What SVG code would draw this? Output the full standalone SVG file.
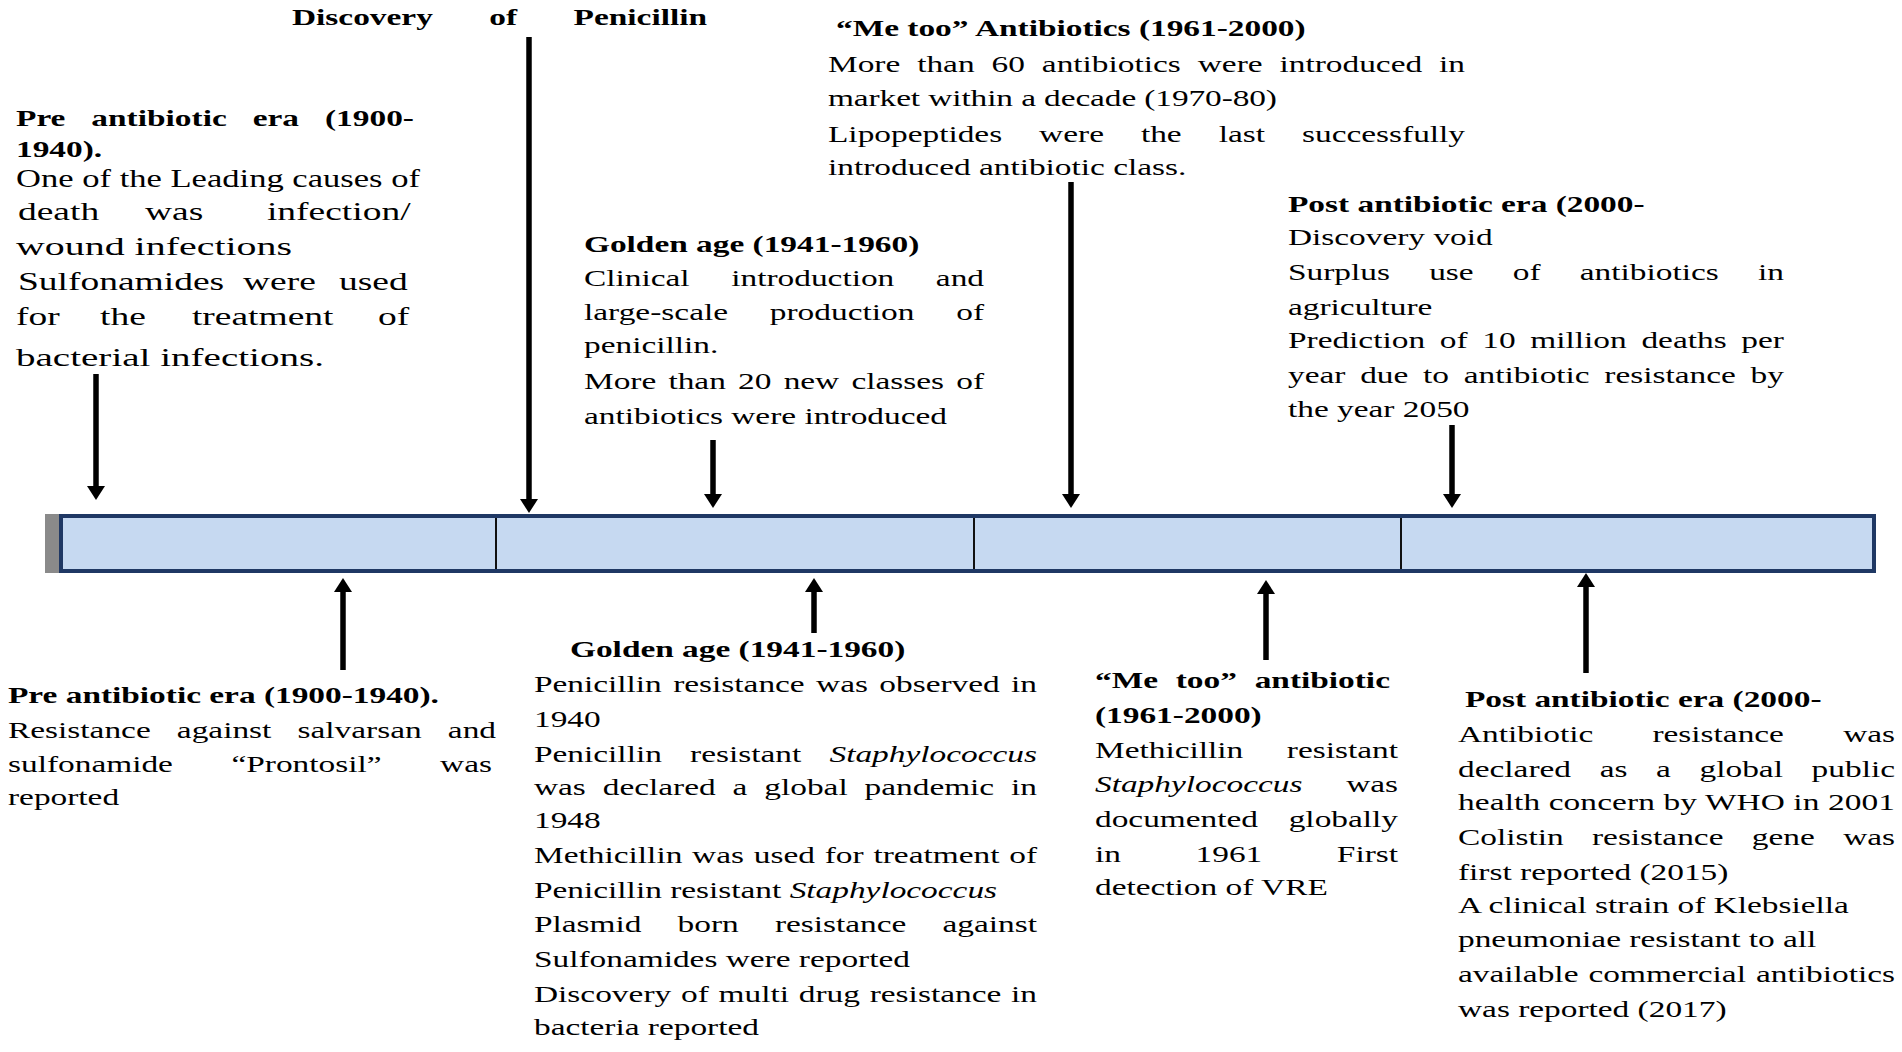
<svg xmlns="http://www.w3.org/2000/svg" width="1902" height="1052" viewBox="0 0 1902 1052">
<defs>
<style>
text { font-family: "Liberation Serif", "Times New Roman", serif; font-size: 24px; fill: #000; }
.b { font-weight: bold; }
.big { font-size: 25px; }
.i { font-style: italic; }
.arrow { stroke: #000; stroke-width: 5.5; fill: none; marker-end: url(#ah); }
.div { stroke: #111; stroke-width: 2; }
</style>
<marker id="ah" markerUnits="userSpaceOnUse" viewBox="0 0 14 18" refX="4" refY="9" markerWidth="14" markerHeight="18" orient="auto">
<path d="M0,0 L14,9 L0,18 z" fill="#000"/>
</marker>
</defs>
<rect x="0" y="0" width="1902" height="1052" fill="#fff"/>

<g id="timeline">
<rect x="45" y="514" width="16" height="59" fill="#8a8a8a"/>
<rect x="61" y="516" width="1813" height="55" fill="#C6D9F1" stroke="#1F3864" stroke-width="4"/>
<line class="div" x1="496" y1="518" x2="496" y2="569"/>
<line class="div" x1="974" y1="518" x2="974" y2="569"/>
<line class="div" x1="1401" y1="518" x2="1401" y2="569"/>
</g>

<g id="pre-antibiotic-top">
<g transform="translate(16 0) scale(1.39 1)">
<text class="b" x="0" y="126" word-spacing="12.6" textLength="286.3" lengthAdjust="spacing">Pre antibiotic era (1900-</text>
<text class="b" x="0" y="157">1940).</text>
</g>
<g transform="translate(16 0) scale(1.5 1)">
<text class="big" x="0" y="187" textLength="269.3" lengthAdjust="spacingAndGlyphs">One of the Leading causes of</text>
<text class="big" y="220"><tspan x="1.3">death</tspan> <tspan x="86">was</tspan> <tspan x="167.3">infection/</tspan></text>
<text class="big" x="0" y="255" textLength="184" lengthAdjust="spacingAndGlyphs">wound infections</text>
<text class="big" y="290"><tspan x="1.3">Sulfonamides</tspan> <tspan x="151.3">were</tspan> <tspan x="215.3">used</tspan></text>
<text class="big" y="325"><tspan x="0">for</tspan> <tspan x="56">the</tspan> <tspan x="117.3">treatment</tspan> <tspan x="241.3">of</tspan></text>
<text class="big" x="0" y="366" textLength="205.3" lengthAdjust="spacingAndGlyphs">bacterial infections.</text>
</g>
</g>

<g id="discovery-penicillin" transform="translate(292 0) scale(1.39 1)">
<text class="b" x="0" y="25" word-spacing="34.6" textLength="298.6" lengthAdjust="spacing">Discovery of Penicillin</text>
</g>

<g id="golden-age-top" transform="translate(584 0) scale(1.39 1)">
<text class="b" x="0" y="252">Golden age (1941-1960)</text>
<text x="0" y="286" word-spacing="23.9" textLength="287.8" lengthAdjust="spacing">Clinical introduction and</text>
<text x="0" y="320" word-spacing="24" textLength="287.8" lengthAdjust="spacing">large-scale production of</text>
<text x="0" y="353">penicillin.</text>
<text x="0" y="389" word-spacing="2.8" textLength="287.8" lengthAdjust="spacing">More than 20 new classes of</text>
<text x="0" y="424">antibiotics were introduced</text>
</g>

<g id="me-too-top" transform="translate(828 0) scale(1.39 1)">
<text class="b" x="5.8" y="36">“Me too” Antibiotics (1961-2000)</text>
<text x="0" y="72" word-spacing="6.2" textLength="458.3" lengthAdjust="spacing">More than 60 antibiotics were introduced in</text>
<text x="0" y="106" textLength="323" lengthAdjust="spacing">market within a decade (1970-80)</text>
<text x="0" y="142" word-spacing="20.6" textLength="458.3" lengthAdjust="spacing">Lipopeptides were the last successfully</text>
<text x="0" y="175">introduced antibiotic class.</text>
</g>

<g id="post-antibiotic-top" transform="translate(1288 0) scale(1.39 1)">
<text class="b" x="0" y="212">Post antibiotic era (2000-</text>
<text x="0" y="245">Discovery void</text>
<text x="0" y="280" word-spacing="22.2" textLength="356.8" lengthAdjust="spacing">Surplus use of antibiotics in</text>
<text x="0" y="315">agriculture</text>
<text x="0" y="348" word-spacing="4.6" textLength="356.8" lengthAdjust="spacing">Prediction of 10 million deaths per</text>
<text x="0" y="383" word-spacing="4.6" textLength="356.8" lengthAdjust="spacing">year due to antibiotic resistance by</text>
<text x="0" y="417">the year 2050</text>
</g>

<g id="pre-antibiotic-bottom" transform="translate(8 0) scale(1.39 1)">
<text class="b" x="0" y="703">Pre antibiotic era (1900-1940).</text>
<text x="0" y="738" word-spacing="12.8" textLength="351.1" lengthAdjust="spacing">Resistance against salvarsan and</text>
<text x="0" y="772" word-spacing="36.1" textLength="348.2" lengthAdjust="spacing">sulfonamide “Prontosil” was</text>
<text x="0" y="805">reported</text>
</g>

<g id="golden-age-bottom" transform="translate(534 0) scale(1.39 1)">
<text class="b" x="25.9" y="657">Golden age (1941-1960)</text>
<text x="0" y="692" word-spacing="2.2" textLength="361.9" lengthAdjust="spacing">Penicillin resistance was observed in</text>
<text x="0" y="727">1940</text>
<text x="0" y="762" word-spacing="14.3" textLength="361.9" lengthAdjust="spacing">Penicillin resistant <tspan class="i">Staphylococcus</tspan></text>
<text x="0" y="795" word-spacing="6.2" textLength="361.9" lengthAdjust="spacing">was declared a global pandemic in</text>
<text x="0" y="828">1948</text>
<text x="0" y="863" word-spacing="1" textLength="361.9" lengthAdjust="spacing">Methicillin was used for treatment of</text>
<text x="0" y="898">Penicillin resistant <tspan class="i">Staphylococcus</tspan></text>
<text x="0" y="932" word-spacing="20" textLength="361.9" lengthAdjust="spacing">Plasmid born resistance against</text>
<text x="0" y="967">Sulfonamides were reported</text>
<text x="0" y="1002" word-spacing="1" textLength="361.9" lengthAdjust="spacing">Discovery of multi drug resistance in</text>
<text x="0" y="1035">bacteria reported</text>
</g>

<g id="me-too-bottom" transform="translate(1095 0) scale(1.39 1)">
<text class="b" x="0" y="688" word-spacing="6.8" textLength="212.2" lengthAdjust="spacing">“Me too” antibiotic</text>
<text class="b" x="0" y="723">(1961-2000)</text>
<text x="0" y="758" word-spacing="25.3" textLength="218" lengthAdjust="spacing">Methicillin resistant</text>
<text x="0" y="792" word-spacing="25.5" textLength="218" lengthAdjust="spacing"><tspan class="i">Staphylococcus</tspan> was</text>
<text x="0" y="827" word-spacing="16.1" textLength="218" lengthAdjust="spacing">documented globally</text>
<text x="0" y="862" word-spacing="47.7" textLength="218" lengthAdjust="spacing">in 1961 First</text>
<text x="0" y="895">detection of VRE</text>
</g>

<g id="post-antibiotic-bottom" transform="translate(1458 0) scale(1.39 1)">
<text class="b" x="5" y="707">Post antibiotic era (2000-</text>
<text x="0" y="742" word-spacing="36.6" textLength="314.4" lengthAdjust="spacing">Antibiotic resistance was</text>
<text x="0" y="777" word-spacing="14.6" textLength="314.4" lengthAdjust="spacing">declared as a global public</text>
<text x="0" y="810" textLength="314.4" lengthAdjust="spacing">health concern by WHO in 2001</text>
<text x="0" y="845" word-spacing="14.4" textLength="314.4" lengthAdjust="spacing">Colistin resistance gene was</text>
<text x="0" y="880">first reported (2015)</text>
<text x="0" y="913">A clinical strain of Klebsiella</text>
<text x="0" y="947">pneumoniae resistant to all</text>
<text x="0" y="982" word-spacing="1.2" textLength="314.4" lengthAdjust="spacing">available commercial antibiotics</text>
<text x="0" y="1017">was reported (2017)</text>
</g>

<g id="connectors">
<line class="arrow" x1="96" y1="374" x2="96" y2="490"/>
<line class="arrow" x1="529" y1="37" x2="529" y2="503"/>
<line class="arrow" x1="713" y1="440" x2="713" y2="498"/>
<line class="arrow" x1="1071" y1="182" x2="1071" y2="498"/>
<line class="arrow" x1="1452" y1="425" x2="1452" y2="498"/>
<line class="arrow" x1="343" y1="670" x2="343" y2="588"/>
<line class="arrow" x1="814" y1="633" x2="814" y2="588"/>
<line class="arrow" x1="1266" y1="660" x2="1266" y2="590"/>
<line class="arrow" x1="1586" y1="673" x2="1586" y2="583"/>
</g>
</svg>
